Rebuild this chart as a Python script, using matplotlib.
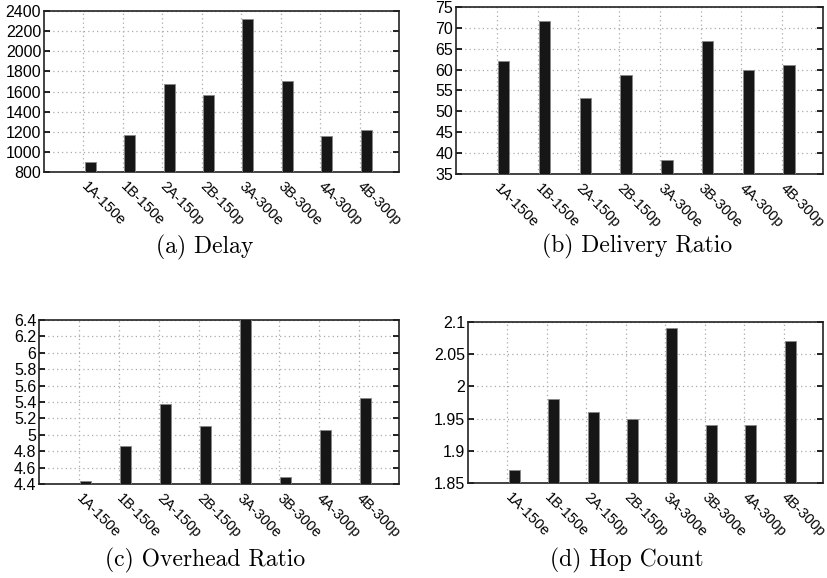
import numpy as np
import matplotlib
matplotlib.use('Agg')
import matplotlib.pyplot as plt

CATEGORIES = ['1A-150e', '1B-150e', '2A-150p', '2B-150p',
              '3A-300e', '3B-300e', '4A-300p', '4B-300p']

DELAY = [900, 1170, 1670, 1565, 2325, 1700, 1155, 1220]
DELIVERY = [62.0, 71.6, 53.2, 58.8, 38.4, 66.8, 59.8, 61.1]
OVERHEAD = [4.44, 4.86, 5.38, 5.11, 6.45, 4.48, 5.06, 5.45]
HOPS = [1.87, 1.98, 1.96, 1.95, 2.09, 1.94, 1.94, 2.07]

CAPTIONS = ['(a) Delay', '(b) Delivery Ratio', '(c) Overhead Ratio', '(d) Hop Count']
YTICKS = [
    ([800, 1000, 1200, 1400, 1600, 1800, 2000, 2200, 2400], None),
    ([35, 40, 45, 50, 55, 60, 65, 70, 75], None),
    ([4.4, 4.6, 4.8, 5.0, 5.2, 5.4, 5.6, 5.8, 6.0, 6.2, 6.4],
     ['4.4', '4.6', '4.8', '5', '5.2', '5.4', '5.6', '5.8', '6', '6.2', '6.4']),
    ([1.85, 1.9, 1.95, 2.0, 2.05, 2.1],
     ['1.85', '1.9', '1.95', '2', '2.05', '2.1']),
]
YLIMS = [(800, 2400), (35, 75), (4.4, 6.4), (1.85, 2.1)]

# axes boxes in figure fractions [left, bottom, width, height]
BOXES = [
    [0.0532, 0.7024, 0.4293, 0.2785],
    [0.5514, 0.6990, 0.4438, 0.2889],
    [0.0472, 0.1626, 0.4353, 0.2837],
    [0.5659, 0.1644, 0.4293, 0.2785],
]
CAP_POS = [(205, 247), (637, 246), (205, 560), (627, 560)]

plt.rcParams['font.family'] = 'Liberation Sans'

fig = plt.figure(figsize=(8.27, 5.78), dpi=100)
x = np.arange(1, len(CATEGORIES) + 1)

for i, vals in enumerate([DELAY, DELIVERY, OVERHEAD, HOPS]):
    ax = fig.add_axes(BOXES[i])
    lo, hi = YLIMS[i]
    ax.bar(x + 0.17, np.array(vals) - lo, bottom=lo, width=0.28,
           color='#161616', edgecolor='#888888', linewidth=0.6, zorder=3)
    ax.set_xlim(0, 9)
    ax.set_ylim(lo, hi)
    ticks, labels = YTICKS[i]
    ax.set_yticks(ticks)
    if labels:
        ax.set_yticklabels(labels)
    ax.set_xticks(x)
    ax.set_xticklabels(CATEGORIES, rotation=-45, ha='left', va='center',
                       rotation_mode='anchor', fontsize=10.5)
    ax.tick_params(axis='x', length=0, pad=9)
    ax.tick_params(axis='y', direction='in', right=True, length=4,
                   labelsize=11.5, pad=2, width=1.2)
    ax.grid(True, linestyle=(0, (1, 2.5)), color='#aaaaaa', linewidth=0.9, zorder=0)
    for s in ax.spines.values():
        s.set_linewidth(1.2)
        s.set_color('#222222')
    fig.text(CAP_POS[i][0] / 827, 1 - CAP_POS[i][1] / 578, CAPTIONS[i],
             family='cmr10', fontsize=17, ha='center', va='center')

fig.savefig('out.png', dpi=100)
